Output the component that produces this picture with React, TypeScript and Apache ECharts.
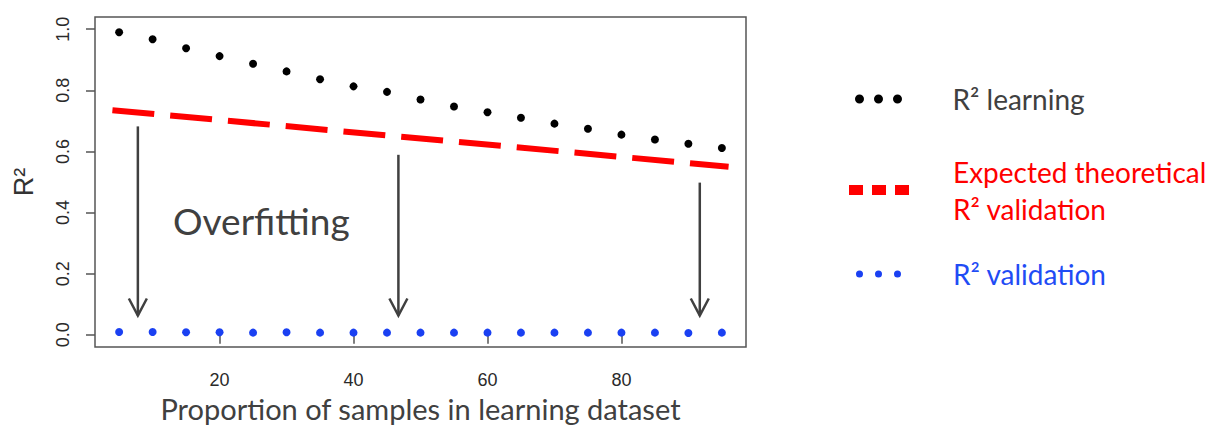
import React, { useEffect, useRef } from "react";
import * as echarts from "echarts";

const proportions = [5, 10, 15, 20, 25, 30, 35, 40, 45, 50, 55, 60, 65, 70, 75, 80, 85, 90, 95];
const r2Learning = [0.99, 0.967, 0.938, 0.912, 0.887, 0.862, 0.836, 0.813, 0.795, 0.77, 0.747, 0.728, 0.71, 0.691, 0.674, 0.655, 0.639, 0.625, 0.611];
const r2Validation = [0.009, 0.009, 0.008, 0.008, 0.007, 0.008, 0.007, 0.007, 0.007, 0.007, 0.007, 0.007, 0.007, 0.007, 0.007, 0.007, 0.007, 0.006, 0.007];
const expectedX = [4, 96];
const expectedY = [0.735, 0.55];
const xTicks = [20, 40, 60, 80];
const yTicks = [0, 0.2, 0.4, 0.6, 0.8, 1.0];
const arrowX = [7.8, 46.7, 91.7];
const arrowTop = [0.682, 0.589, 0.498];
const arrowTip = [0.063, 0.063, 0.063];

const LEARN = "R² learning";
const EXPECTED = "Expected theoretical\nR² validation";
const VALID = "R² validation";

const GRAY = "#404040";
const SANS = "Lato, 'Open Sans', sans-serif";
const ARIAL = "'Liberation Sans', Arial, sans-serif";

export default function App() {
  const ref = useRef<HTMLDivElement>(null);
  useEffect(() => {
    if (!ref.current) return;
    const chart = echarts.init(ref.current, undefined, { renderer: "svg" });
    const dots = (r: number, cs: number[]) =>
      "path://" + cs.map((c) => `M${c - r},${r}a${r},${r} 0 1,0 ${2 * r},0a${r},${r} 0 1,0 ${-2 * r},0z`).join(" ");
    chart.setOption({
      animation: false,
      grid: {
        left: 95,
        top: 17,
        width: 651,
        height: 330,
        show: true,
        borderColor: "#555",
        borderWidth: 1.5,
        backgroundColor: "transparent",
        containLabel: false,
        outerBoundsMode: "none",
      },
      xAxis: {
        type: "value",
        min: 1.4,
        max: 98.6,
        axisLine: { show: false },
        splitLine: { show: false },
        axisTick: { show: true, length: 9, lineStyle: { color: "#555", width: 1.5 }, customValues: xTicks },
        axisLabel: { customValues: xTicks, margin: 24, fontSize: 18, color: "#2a2a2a", fontFamily: ARIAL },
        name: "Proportion of samples in learning dataset",
        nameLocation: "middle",
        nameGap: 44,
        nameTextStyle: { fontSize: 29, lineHeight: 29, color: GRAY, fontFamily: SANS },
      },
      yAxis: {
        type: "value",
        min: -0.04,
        max: 1.04,
        axisLine: { show: false },
        splitLine: { show: false },
        axisTick: { show: true, length: 9, lineStyle: { color: "#555", width: 1.5 }, customValues: yTicks },
        axisLabel: {
          customValues: yTicks,
          rotate: 90,
          margin: 23,
          fontSize: 18,
          color: "#2a2a2a",
          fontFamily: ARIAL,
          formatter: (v: number) => v.toFixed(1),
        },
        name: "R²",
        nameLocation: "middle",
        nameRotate: 90,
        nameGap: 58,
        nameTextStyle: { fontSize: 27, color: "#333", fontFamily: ARIAL },
      },
      legend: [
        {
          data: [{ name: LEARN, icon: dots(4.5, [5, 24, 43]) }],
          left: 855,
          top: 81,
          padding: 0,
          itemWidth: 48,
          itemHeight: 9,
          selectedMode: false,
          itemStyle: { borderWidth: 0, opacity: 1 },
          textStyle: { fontSize: 28, lineHeight: 36, color: GRAY, fontFamily: SANS, padding: [0, 0, 0, 45] },
        },
        {
          data: [{ name: EXPECTED, icon: "path://M0,0h14v10h-14z M23,0h14v10h-14z M46,0h14v10h-14z" }],
          left: 849,
          top: 153,
          padding: 0,
          itemWidth: 60,
          itemHeight: 10,
          selectedMode: false,
          itemStyle: { borderWidth: 0 },
          textStyle: { fontSize: 28, lineHeight: 37, color: "#ff0000", fontFamily: SANS, padding: [0, 0, 0, 39] },
        },
        {
          data: [{ name: VALID, icon: dots(3.5, [3.5, 22.5, 41.5]) }],
          left: 856,
          top: 256,
          padding: 0,
          itemWidth: 45,
          itemHeight: 7,
          selectedMode: false,
          itemStyle: { borderWidth: 0, opacity: 1 },
          textStyle: { fontSize: 28, lineHeight: 36, color: "#1f4cf5", fontFamily: SANS, padding: [0, 0, 0, 47] },
        },
      ],
      graphic: [
        {
          type: "text",
          left: 173,
          top: 202,
          style: { text: "Overfitting", fontSize: 37, fill: GRAY, fontFamily: SANS },
        },
      ],
      series: [
        {
          name: EXPECTED,
          type: "line",
          data: expectedX.map((x, i) => [x, expectedY[i]]),
          showSymbol: false,
          symbol: "none",
          color: "#ff0000",
          lineStyle: { color: "#ff0000", width: 6, type: [42, 16], cap: "butt" },
          z: 2,
        },
        {
          name: LEARN,
          type: "scatter",
          data: proportions.map((x, i) => [x, r2Learning[i]]),
          symbolSize: 8,
          color: "#000000",
          itemStyle: { color: "#000000", opacity: 1 },
          z: 3,
        },
        {
          name: VALID,
          type: "scatter",
          data: proportions.map((x, i) => [x, r2Validation[i]]),
          symbolSize: 8,
          color: "#1a40f2",
          itemStyle: { color: "#1a40f2", opacity: 1 },
          z: 3,
        },
        {
          name: "arrows",
          type: "custom",
          data: arrowX.map((x, i) => [x, arrowTop[i], arrowTip[i]]),
          encode: { x: 0, y: [1, 2] },
          z: 4,
          renderItem: (params: any, api: any) => {
            const x = api.value(0);
            const p0 = api.coord([x, api.value(1)]);
            const p1 = api.coord([x, api.value(2)]);
            return {
              type: "group",
              children: [
                { type: "line", shape: { x1: p0[0], y1: p0[1], x2: p1[0], y2: p1[1] }, style: { stroke: GRAY, lineWidth: 2.5 } },
                {
                  type: "polyline",
                  shape: { points: [[p1[0] - 9, p1[1] - 17], [p1[0], p1[1]], [p1[0] + 9, p1[1] - 17]] },
                  style: { stroke: GRAY, lineWidth: 2.5, fill: null },
                },
              ],
            };
          },
        },
      ],
    });
    return () => chart.dispose();
  }, []);
  return <div ref={ref} style={{ position: "fixed", left: 0, top: 0, width: 1211, height: 426, background: "#fff" }} />;
}
